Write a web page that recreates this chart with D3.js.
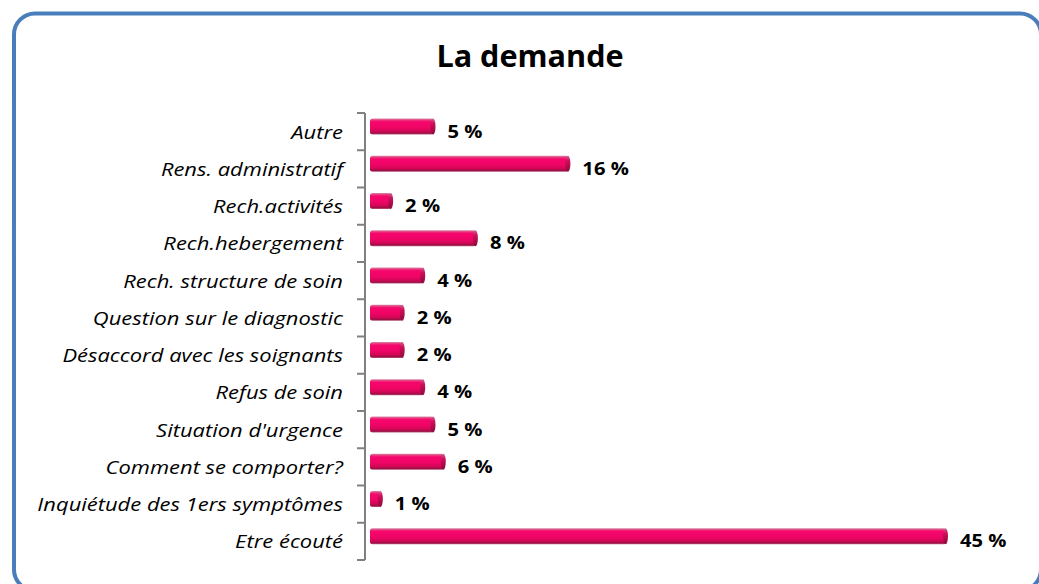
<!DOCTYPE html>
<html><head><meta charset="utf-8">
<script src="https://cdn.jsdelivr.net/npm/d3@7"></script>
<style>
html,body{margin:0;padding:0;background:#fff;overflow:hidden}
svg{display:block}
</style></head>
<body>
<svg id="chart" width="1039" height="584"></svg>
<script>
const title = "La demande";
const categories = ["Autre","Rens. administratif","Rech.activités","Rech.hebergement","Rech. structure de soin","Question sur le diagnostic","Désaccord avec les soignants","Refus de soin","Situation d'urgence","Comment se comporter?","Inquiétude des 1ers symptômes","Etre écouté"];
const values = [5.1, 15.6, 1.8, 8.4, 4.3, 2.7, 2.7, 4.3, 5.1, 5.9, 1.0, 45.0];
const valueLabels = ["5 %","16 %","2 %","8 %","4 %","2 %","2 %","4 %","5 %","6 %","1 %","45 %"];

const svg = d3.select("#chart");
const defs = svg.append("defs");
const g1 = defs.append("linearGradient").attr("id","barGrad").attr("x1",0).attr("y1",0).attr("x2",0).attr("y2",1);
[[0,"#d98aa8"],[0.1,"#e83a7c"],[0.2,"#f6066d"],[0.55,"#f00566"],[0.8,"#d00856"],[0.92,"#9c0e44"],[1,"#b85a80"]].forEach(([o,c])=>g1.append("stop").attr("offset",o).attr("stop-color",c));
const g2 = defs.append("linearGradient").attr("id","capGrad").attr("x1",0).attr("y1",0).attr("x2",0).attr("y2",1);
[[0,"#c86a90"],[0.3,"#d0105a"],[0.8,"#a00a45"],[1,"#8a1040"]].forEach(([o,c])=>g2.append("stop").attr("offset",o).attr("stop-color",c));

// frame
svg.append("rect").attr("x",14).attr("y",13.5).attr("width",1027).attr("height",577)
  .attr("rx",21).attr("fill","none").attr("stroke","#4a7ebb").attr("stroke-width",4);

svg.append("text").attr("transform","translate(530,67) scale(1.02,1)").attr("text-anchor","middle")
  .attr("font-family","Open Sans").attr("font-weight","bold").attr("font-size",30)
  .attr("fill","#000").text(title);

const x = d3.scaleLinear().domain([0,45]).range([370,948]);
const y = d3.scaleBand().domain(categories).range([113,560]).paddingInner(0).paddingOuter(0);

const sxLab = 1.22;
const axis = d3.axisLeft(y).tickSize(0).tickPadding(0);
const ag = svg.append("g").attr("transform","translate(365,0)").call(axis);
ag.select(".domain").remove();
ag.selectAll("text").attr("x",0).attr("font-family","Open Sans").attr("font-style","italic")
  .attr("font-size",18).attr("fill","#000").attr("dy","0.33em")
  .attr("transform",`translate(-22,1) scale(${sxLab},1)`);

// axis line & boundary ticks
svg.append("line").attr("x1",365).attr("x2",365).attr("y1",y.range()[0]).attr("y2",y.range()[1])
  .attr("stroke","#808080").attr("stroke-width",2);
const bounds = categories.map(c=>y(c)).concat([y.range()[1]]);
svg.selectAll(".btick").data(bounds).join("line").attr("class","btick")
  .attr("x1",357).attr("x2",365).attr("y1",d=>d).attr("y2",d=>d)
  .attr("stroke","#808080").attr("stroke-width",2);

const bh = 16, boff = 5.5;
const bars = svg.append("g");
categories.forEach((c,i)=>{
  const x0 = x(0), x1 = x(values[i]);
  const top = y(c)+boff;
  bars.append("rect").attr("x",x0).attr("y",top).attr("width",Math.max(0,x1-x0-2)).attr("height",bh)
    .attr("rx",2.5).attr("fill","url(#barGrad)");
  bars.append("ellipse").attr("cx",x1-2.5).attr("cy",top+bh/2).attr("rx",2.5).attr("ry",bh/2)
    .attr("fill","url(#capGrad)");
  svg.append("text").attr("transform",`translate(${x1+12},${y(c)+y.bandwidth()/2}) scale(1.12,1)`)
    .attr("dy","0.33em")
    .attr("font-family","Open Sans").attr("font-weight","bold").attr("font-size",18)
    .attr("fill","#000").text(valueLabels[i]);
});
</script>
</body></html>
